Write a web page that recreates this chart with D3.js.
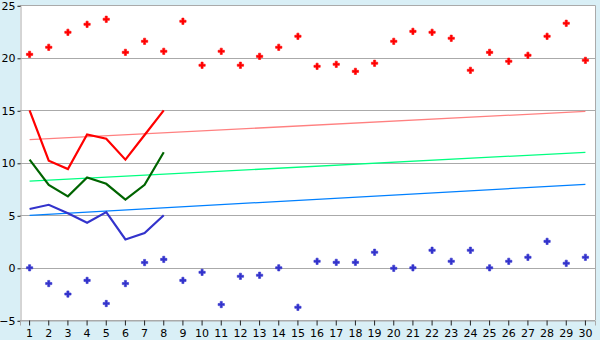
<!DOCTYPE html>
<html><head><meta charset="utf-8">
<script src="https://cdn.jsdelivr.net/npm/d3@7"></script>
<style>body{margin:0;background:#d9eff6;}svg{display:block;}</style>
</head><body>
<svg id="c" width="600" height="340"></svg>
<script>
const categories = d3.range(1, 31).map(String);
const redPoints = [20.33,21.0,22.43,23.19,23.67,20.52,21.57,20.62,23.48,19.29,20.62,19.29,20.14,21.0,22.05,19.19,19.38,18.71,19.48,21.57,22.52,22.43,21.86,18.81,20.52,19.67,20.24,22.05,23.29,19.76];
const bluePoints = [0,-1.5,-2.5,-1.2,-3.4,-1.5,0.5,0.8,-1.2,-0.43,-3.5,-0.81,-0.71,0,-3.76,0.62,0.52,0.52,1.48,-0.05,0,1.67,0.62,1.67,0,0.62,1.0,2.52,0.43,1.0];
const redLine = [15.0,10.2,9.4,12.7,12.3,10.3,12.65,15.0];
const greenLine = [10.3,7.9,6.8,8.6,8.0,6.5,7.9,11.0];
const blueLine = [5.6,6.0,5.2,4.3,5.3,2.7,3.3,5.0];
const trendRed = [12.2, 14.9];
const trendGreen = [8.25, 11.0];
const trendBlue = [5.0, 7.95];
const yTicks = [-5,0,5,10,15,20,25];

const svg = d3.select("#c");
const L=20, R=595, T=5.3, B=320.3;
const x = d3.scaleBand().domain(categories).range([L,R]).padding(0);
const cx = c => x(c) + x.bandwidth()/2;
const y = d3.scaleLinear().domain([-5,25]).range([B,T]);

svg.append("rect").attr("x",L).attr("y",T).attr("width",R-L).attr("height",B-T).attr("fill","#fff");

// gridlines
svg.append("g").selectAll("line").data(yTicks).join("line")
  .attr("x1",L).attr("x2",R).attr("y1",d=>Math.round(y(d))+0.5).attr("y2",d=>Math.round(y(d))+0.5)
  .attr("stroke","#aaaaaa").attr("stroke-width",1);
svg.append("line").attr("x1",R+0.5).attr("x2",R+0.5).attr("y1",T).attr("y2",B).attr("stroke","#aaaaaa");

// axes
const yAxis = d3.axisLeft(y).tickValues(yTicks).tickSize(3).tickPadding(2);
const gy = svg.append("g").attr("transform",`translate(${L+0.5},0.5)`).call(yAxis);
const xAxis = d3.axisBottom(x).tickSize(5).tickPadding(4);
const gx = svg.append("g").attr("transform",`translate(0,${Math.round(B)+0.5})`).call(xAxis);
[gx,gy].forEach(g=>{
  g.selectAll("path,line").attr("stroke","#aaaaaa");
  g.selectAll(".tick line").attr("stroke","#222");
  g.selectAll("text").attr("fill","#000").style("font-family","DejaVu Sans").style("font-size","11px");
});

// trend lines
const trends = [[trendRed,"#ff8080"],[trendGreen,"#00ff80"],[trendBlue,"#0080ff"]];
trends.forEach(([t,col])=>{
  svg.append("line").attr("x1",cx(categories[0])).attr("x2",cx(categories[categories.length-1]))
    .attr("y1",y(t[0])).attr("y2",y(t[1])).attr("stroke",col).attr("stroke-width",1.3);
});

// lines
const lineGen = d3.line().x((d,i)=>cx(categories[i])).y(d=>y(d));
[[redLine,"#ff0000"],[greenLine,"#006400"],[blueLine,"#3333cc"]].forEach(([data,col])=>{
  svg.append("path").datum(data).attr("d",lineGen).attr("fill","none").attr("stroke",col).attr("stroke-width",2.2);
});

// points
const sym = d3.symbol().type(d3.symbolCross).size(22);
[[redPoints,"#ff0000"],[bluePoints,"#3333cc"]].forEach(([data,col])=>{
  svg.append("g").selectAll("path").data(data).join("path")
    .attr("transform",(d,i)=>`translate(${cx(categories[i])},${y(d)})`)
    .attr("d",sym).attr("fill",col).attr("stroke",col).attr("stroke-width",0.6);
});
</script>
</body></html>
